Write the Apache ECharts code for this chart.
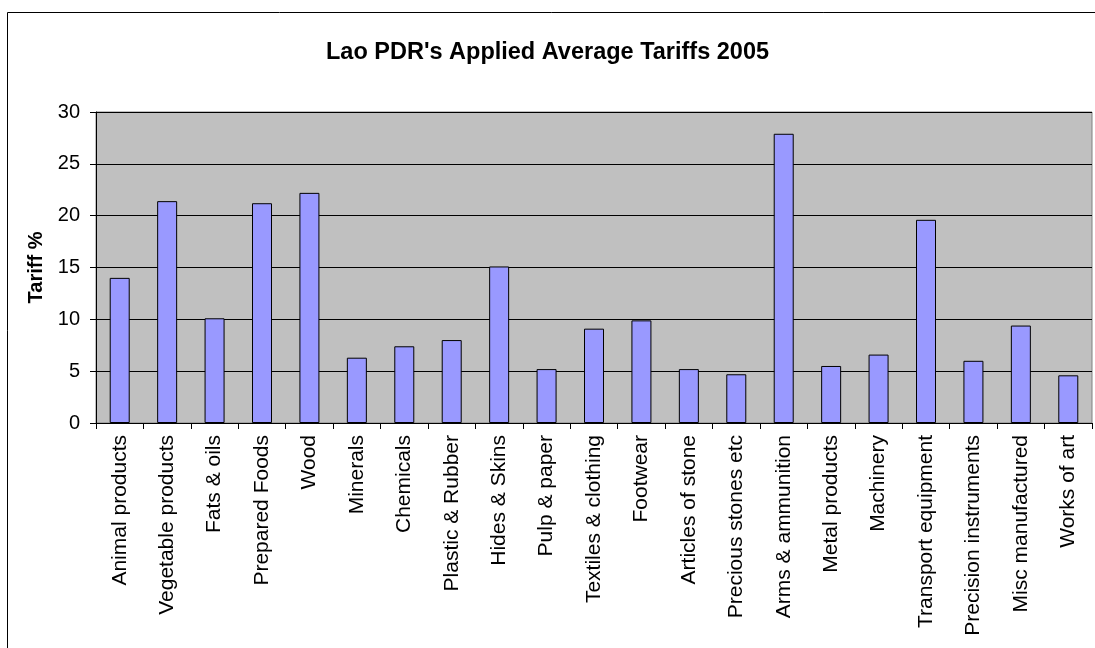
<!DOCTYPE html>
<html>
<head>
<meta charset="utf-8">
<script src="https://cdn.jsdelivr.net/npm/echarts@6/dist/echarts.min.js"></script>
<style>
  html, body { margin: 0; padding: 0; background: #fff; }
  #chart { width: 1095px; height: 648px; }
</style>
</head>
<body>
<div id="chart"></div>
<script>
const categories = [
  'Animal products', 'Vegetable products', 'Fats & oils', 'Prepared Foods', 'Wood',
  'Minerals', 'Chemicals', 'Plastic & Rubber', 'Hides & Skins', 'Pulp & paper',
  'Textiles & clothing', 'Footwear', 'Articles of stone', 'Precious stones etc',
  'Arms & ammunition', 'Metal products', 'Machinery', 'Transport equipment',
  'Precision instruments', 'Misc manufactured', 'Works of art'
]
const tariffs = [
  14.0, 21.4, 10.1, 21.2, 22.2,
  6.3, 7.4, 8.0, 15.1, 5.2,
  9.1, 9.9, 5.2, 4.7,
  27.9, 5.5, 6.6, 19.6,
  6.0, 9.4, 4.6
]
const yTicks = [0, 5, 10, 15, 20, 25, 30]

const chart = echarts.init(document.getElementById('chart'))

const option = {
  animation: false,
  backgroundColor: '#fff',
  title: {
    text: "Lao PDR's Applied Average Tariffs 2005",
    left: 'center',
    top: 36,
    textStyle: { fontFamily: 'Liberation Sans', fontWeight: 'bold', fontSize: 23.5, color: '#000' }
  },
  // outer frame of the chart (only left and top edges fall inside the picture)
  graphic: [
    { type: 'line', shape: { x1: 7.5, y1: 12.5, x2: 1095, y2: 12.5 }, style: { stroke: '#000', lineWidth: 1 } },
    { type: 'line', shape: { x1: 7.5, y1: 12.5, x2: 7.5, y2: 648 }, style: { stroke: '#000', lineWidth: 1 } }
  ],
  grid: {
    left: 96, right: 3, top: 112, bottom: 225,
    show: true, backgroundColor: '#c0c0c0', borderColor: '#808080', borderWidth: 1
  },
  xAxis: {
    type: 'category',
    data: categories,
    axisLine: { lineStyle: { color: '#000', width: 1 } },
    axisTick: { show: true, length: 6, lineStyle: { color: '#000' } },
    axisLabel: {
      rotate: 90, interval: 0, margin: 12,
      fontFamily: 'Liberation Sans', fontSize: 21, color: '#000'
    }
  },
  yAxis: {
    type: 'value',
    min: yTicks[0], max: yTicks[yTicks.length - 1], interval: 5,
    name: 'Tariff %',
    nameLocation: 'middle',
    nameGap: 50,
    nameTextStyle: { fontFamily: 'Liberation Sans', fontWeight: 'bold', fontSize: 20, color: '#000' },
    axisLine: { show: true, lineStyle: { color: '#000', width: 1 } },
    axisTick: { show: true, length: 6, lineStyle: { color: '#000' } },
    axisLabel: { fontFamily: 'Liberation Sans', fontSize: 20, color: '#000', margin: 16 },
    splitLine: { show: true, lineStyle: { color: '#000', width: 1 } }
  },
  series: [
    {
      type: 'bar',
      data: tariffs,
      barWidth: 20,
      itemStyle: { color: '#9999ff', borderColor: '#000', borderWidth: 1 }
    }
  ]
}

chart.setOption(option)
</script>
</body>
</html>
